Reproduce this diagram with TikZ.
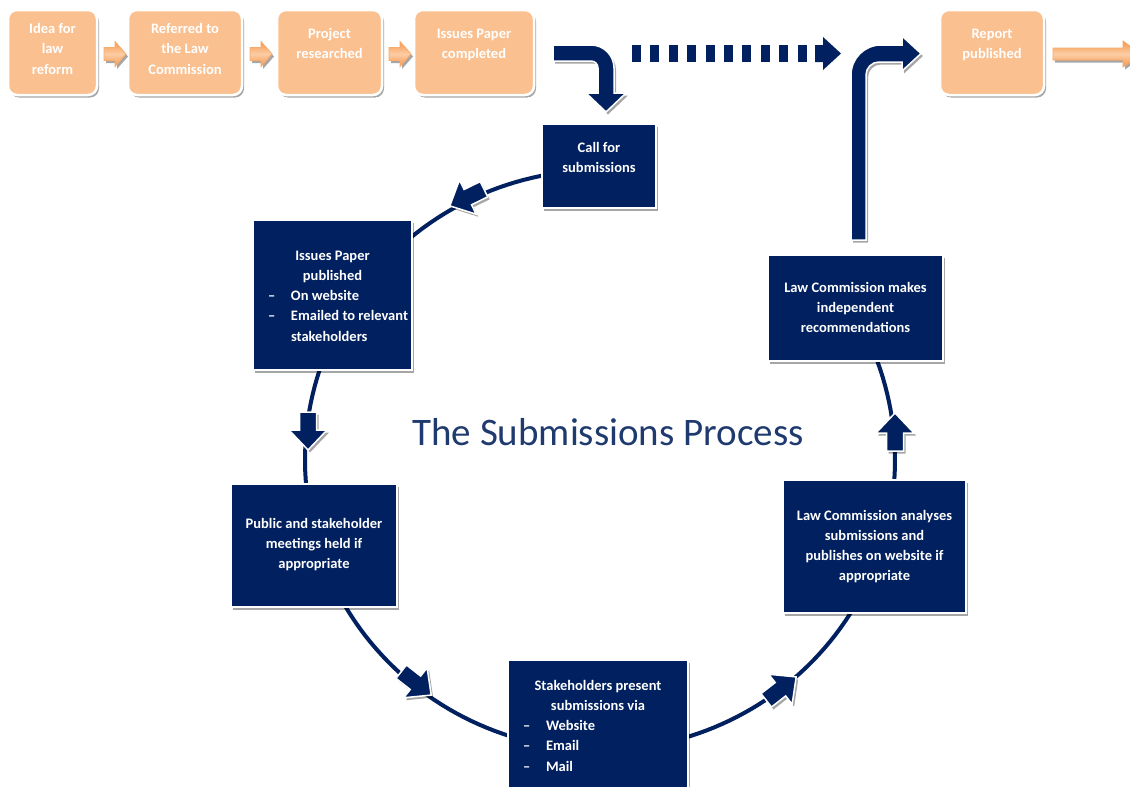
\documentclass[tikz,border=0pt]{standalone}
\usepackage{fontspec}
\setmainfont{Carlito}
\usetikzlibrary{shadows,calc}
\definecolor{navy}{HTML}{002060}
\definecolor{peach}{HTML}{FAC090}
\definecolor{orangeA}{HTML}{F79646}
\definecolor{orangeL}{HTML}{FCCDA6}
\definecolor{titleblue}{HTML}{1F3A6E}
\newcommand{\tbox}[4]{\parbox[c][#2][t]{#1}{\vspace*{#3}\centering\rule{0pt}{10.5pt}#4}}
\newcommand{\litem}[1]{\hspace*{15pt}\makebox[23pt][l]{–}#1}
\tikzset{
  myshadow/.style={drop shadow={shadow xshift=2pt,shadow yshift=-2.5pt,opacity=0.35,fill=black}},
  obox/.style={rectangle,rounded corners=9pt,fill=peach,draw=white,line width=2.5pt,inner sep=0pt,
    text=white,font=\fontsize{14.5}{20.5}\selectfont\bfseries,myshadow},
  dbox/.style={rectangle,fill=navy,draw=white,line width=2pt,inner sep=0pt,
    text=white,font=\fontsize{14.5}{20.3}\selectfont\bfseries,myshadow},
  ring/.style={draw=navy,line width=4pt},
  navshape/.style={fill=navy,draw=white,line width=1.5pt,myshadow},
  orshape/.style={draw=orangeA!80,line width=0.8pt,top color=orangeA,bottom color=orangeA,middle color=orangeL,myshadow},
  dashbar/.style={fill=navy},
  titletext/.style={text=titleblue,font=\fontsize{39}{44}\selectfont,inner sep=0pt},
  navarrow/.pic={\path[navshape] (-20,8.5) -- (-2,8.5) -- (-2,19) -- (18,0) -- (-2,-19) -- (-2,-8.5) -- (-20,-8.5) -- cycle;},
  orarrow/.pic={\path[orshape] (-11,6.5) -- (0,6.5) -- (0,12.5) -- (11,0) -- (0,-12.5) -- (0,-6.5) -- (-11,-6.5) -- cycle;}
}
\begin{document}
\begin{tikzpicture}[x=1pt,y=-1pt]
\fill[white] (0,0) rectangle (1130,787);
\useasboundingbox (0,0) rectangle (1130,787);

% the ring
\draw[ring] plot[domain=95:395,samples=180] ({600+295*cos(\x)},{460-290*sin(\x)});

% process boxes
\node[dbox] (call) at (599,166) {\tbox{114pt}{84pt}{17.5pt}{Call for\\submissions}};
\node[dbox] (issues) at (332.5,295) {\tbox{159pt}{150pt}{29.5pt}{Issues Paper\\published\par\raggedright
  \litem{On website}\\\litem{Emailed to relevant}\\\hspace*{38pt}stakeholders}};
\node[dbox] (public) at (314,545.5) {\tbox{166pt}{123pt}{33.5pt}{Public and stakeholder\\meetings held if\\appropriate}};
\node[dbox] (stake) at (598,730) {\tbox{180pt}{140pt}{19.5pt}{Stakeholders present\\submissions via\par\raggedright
  \litem{Website}\\\litem{Email}\\\litem{Mail}}};
\node[dbox] (analyses) at (874.5,546.5) {\tbox{183pt}{133pt}{29.5pt}{Law Commission analyses\\submissions and\\publishes on website if\\appropriate}};
\node[dbox] (makes) at (855.5,308) {\tbox{175pt}{106pt}{26.5pt}{Law Commission makes\\independent\\recommendations}};

% arrows on the ring
\pic[rotate=206] at (466,198) {navarrow};
\pic[rotate=270] at (308,432) {navarrow};
\pic[rotate=-38] at (417,684) {navarrow};
\pic[rotate=38] at (782,688) {navarrow};
\pic[rotate=90] at (895,431) {navarrow};

% title
\node[titletext] (title) at (608,432) {The Submissions Process};

% top row
\node[obox] (b1) at (52.5,52.5) {\tbox{89pt}{85pt}{12.5pt}{Idea for\\law\\reform}};
\node[obox] (b2) at (185,52.5) {\tbox{114pt}{85pt}{12.5pt}{Referred to\\the Law\\Commission}};
\node[obox] (b3) at (329.5,52.5) {\tbox{105pt}{85pt}{17.5pt}{Project\\researched}};
\node[obox] (b4) at (474,52.5) {\tbox{120pt}{85pt}{17.5pt}{Issues Paper\\completed}};
\node[obox] (report) at (992,52.5) {\tbox{104pt}{85pt}{17.5pt}{Report\\published}};

\pic at ($(b1.east)!0.5!(b2.west)+(2.5,1.5)$) {orarrow};
\pic at ($(b2.east)!0.5!(b3.west)+(1.5,1.5)$) {orarrow};
\pic at ($(b3.east)!0.5!(b4.west)+(2,1.5)$) {orarrow};
\path[orshape] (1053,48) -- (1123,48) -- (1123,41) -- (1141,54) -- (1123,67) -- (1123,60) -- (1053,60) -- cycle;

% bent arrow into "Call for submissions"
\path[navshape] (553,45) -- (591,45) .. controls (603.7,45) and (614,55.3) .. (614,68) -- (614,93)
  -- (626,93) -- (606,112) -- (586,93) -- (598,93) -- (598,68)
  .. controls (598,64.1) and (594.9,61) .. (591,61) -- (553,61) -- cycle;

% dotted arrow
\foreach \i in {0,...,9} \fill[dashbar] ({632+18.4*\i},45) rectangle ++(9,17);
\path[dashbar] (815,45) -- (823,45) -- (823,37) -- (841,53.5) -- (823,70) -- (823,62) -- (815,62) -- cycle;

% bent arrow out to "Report published"
\path[navshape] (851,240) -- (851,75) .. controls (851,58.4) and (864.4,45) .. (881,45) -- (902,45)
  -- (902,36) -- (921,53.5) -- (902,71) -- (902,62) -- (879,62)
  .. controls (871.8,62) and (866,67.8) .. (866,75) -- (866,240) -- cycle;
\end{tikzpicture}
\end{document}
